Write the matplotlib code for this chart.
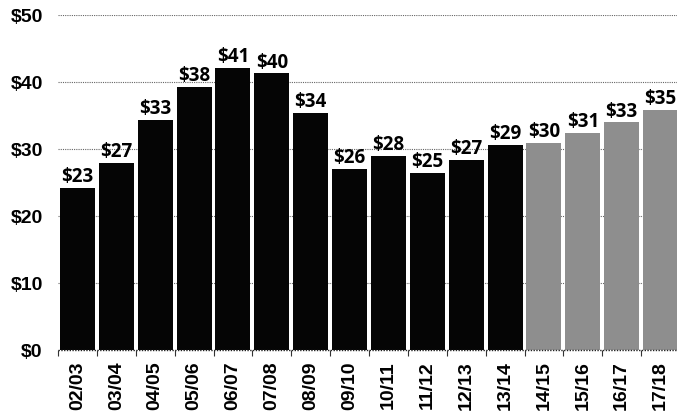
import matplotlib
matplotlib.use("Agg")
import matplotlib.pyplot as plt
import numpy as np

# school years and tuition values
years = ["02/03", "03/04", "04/05", "05/06", "06/07", "07/08", "08/09", "09/10",
         "10/11", "11/12", "12/13", "13/14", "14/15", "15/16", "16/17", "17/18"]
bar_heights = [24.2, 27.9, 34.3, 39.3, 42.1, 41.3, 35.4, 27.0,
               29.0, 26.4, 28.4, 30.6, 30.9, 32.4, 34.0, 35.8]
bar_labels = [23, 27, 33, 38, 41, 40, 34, 26, 28, 25, 27, 29, 30, 31, 33, 35]
n_actual = 12  # first 12 are actual, the rest projected
y_ticks = [0, 10, 20, 30, 40, 50]

fig = plt.figure(figsize=(6.77, 4.19), dpi=100)
ax = fig.add_axes([58 / 677, 69 / 419, 622 / 677, 335 / 419])

x = np.arange(len(years))
colors = ["#050505" if i < n_actual else "#8e8e8e" for i in range(len(years))]
ax.bar(x, bar_heights, width=0.9, color=colors, zorder=2)

for xi, h, lab in zip(x, bar_heights, bar_labels):
    ax.annotate(f"${lab}", (xi, h), xytext=(0, 0.5), textcoords="offset points",
                ha="center", va="bottom", fontsize=13.5, fontweight="bold",
                family="Open Sans", zorder=3)

ax.set_xlim(-0.5, len(years) - 0.5)
ax.set_ylim(0, 50)
ax.set_yticks(y_ticks)
ax.set_yticklabels([f"${v}" for v in y_ticks], fontsize=14, fontweight="bold",
                   family="Liberation Sans")
ax.tick_params(axis="y", length=0, pad=11)

ax.set_xticks(x)
ax.set_xticklabels(years, rotation=90, fontsize=14, fontweight="bold",
                   family="Liberation Sans")
ax.tick_params(axis="x", which="major", length=0, pad=8)
ax.set_xticks(np.arange(-0.5, len(years)), minor=True)
ax.tick_params(axis="x", which="minor", length=4, width=0.8, color="#333333",
               direction="out")

for v in y_ticks[1:]:
    ax.axhline(v, color="#666666", linestyle=(0, (1, 1)), linewidth=0.8, zorder=1)
ax.axhline(0, color="#222222", linestyle=(0, (1, 1)), linewidth=1.0, zorder=3,
           clip_on=False)

for s in ax.spines.values():
    s.set_visible(False)

fig.savefig("out.png", dpi=100)
plt.close(fig)
